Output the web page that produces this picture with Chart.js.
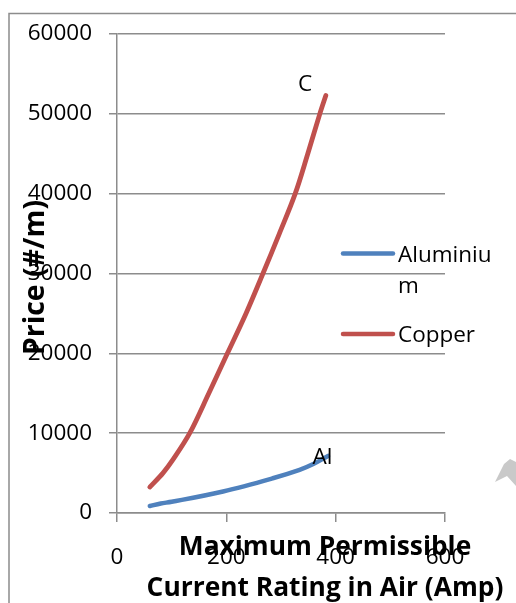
<!DOCTYPE html>
<html>
<head>
<meta charset="utf-8">
<script src="https://cdn.jsdelivr.net/npm/chart.js@4.4.0/dist/chart.umd.min.js"></script>
<style>
    html, body { margin: 0; padding: 0; background: #fff; }
</style>
</head>
<body>
<canvas id="priceChart" width="516" height="603"></canvas>
<script>
// Dados
var cuCurrent = [60, 84, 102, 133, 168, 202, 236, 267, 297, 326, 349, 371, 382];
var cuPrice = [3250, 5000, 6650, 10000, 15000, 20000, 25000, 30000, 35000, 40000, 45000, 50000, 52300];

var alCurrent = [60, 80, 100, 194, 285, 334, 358, 386];
var alPrice = [870, 1200, 1400, 2700, 4350, 5400, 6100, 7150];

var xTicks = [0, 200, 400, 600];
var yTicks = [0, 10000, 20000, 30000, 40000, 50000, 60000];

var seriesNames = ['Aluminium', 'Copper'];
var seriesColors = ['#4F81BD', '#C0504D'];

// rotulos "C" e "Al" junto das curvas (em unidades de dados)
var pointLabels = ['C', 'Al'];
var pointLabelX = [344, 376];
var pointLabelY = [53650, 6980];

var xTitle = ['Maximum Permissible', 'Current Rating in Air (Amp)'];
var yTitle = 'Price (#/m)';

function toPoints(xs, ys) {
    return xs.map(function (x, i) { return { x: x, y: ys[i] }; });
}

function fitFont(ctx, text, weight, width) {
    ctx.font = weight + ' 26px "Open Sans"';
    var w = ctx.measureText(text).width;
    return 26 * width / w;
}

var fundoPlugin = {
    id: 'fundo',
    beforeDraw: function (chart) {
        var ctx = chart.ctx;
        ctx.save();
        ctx.fillStyle = '#fff';
        ctx.fillRect(0, 0, chart.width, chart.height);
        ctx.strokeStyle = '#8c8c8c';
        ctx.lineWidth = 1.5;
        ctx.beginPath();
        ctx.moveTo(9, chart.height);
        ctx.lineTo(9, 13.5);
        ctx.lineTo(chart.width, 13.5);
        ctx.stroke();
        // marca cinza no canto direito
        ctx.fillStyle = '#c9c9c9';
        ctx.beginPath();
        ctx.moveTo(495, 482);
        ctx.lineTo(504, 464);
        ctx.lineTo(510, 459);
        ctx.lineTo(516, 462);
        ctx.lineTo(516, 486);
        ctx.lineTo(507, 476);
        ctx.closePath();
        ctx.fill();
        ctx.restore();
    }
};

var textosPlugin = {
    id: 'textos',
    afterDraw: function (chart) {
        var ctx = chart.ctx;
        var xs = chart.scales.x, ys = chart.scales.y;
        ctx.save();
        ctx.fillStyle = '#000';

        // titulo eixo x
        var fx = fitFont(ctx, xTitle[1], 'bold', 357);
        ctx.font = 'bold ' + fx + 'px "Open Sans"';
        ctx.textAlign = 'center';
        ctx.textBaseline = 'alphabetic';
        ctx.fillText(xTitle[0], 325, 555);
        ctx.fillText(xTitle[1], 325, 596);

        // titulo eixo y
        var fy = fitFont(ctx, yTitle, 'bold', 155);
        ctx.font = 'bold ' + fy + 'px "Open Sans"';
        ctx.translate(43.5, 277.5);
        ctx.rotate(-Math.PI / 2);
        ctx.fillText(yTitle, 0, 0);
        ctx.setTransform(1, 0, 0, 1, 0, 0);

        // legenda
        ctx.font = '22.5px "Open Sans"';
        ctx.textAlign = 'left';
        var legY = [253.5, 334];
        chart.data.datasets.forEach(function (ds, i) {
            ctx.strokeStyle = ds.borderColor;
            ctx.lineWidth = 4.5;
            ctx.lineCap = 'round';
            ctx.beginPath();
            ctx.moveTo(343, legY[i]);
            ctx.lineTo(393, legY[i]);
            ctx.stroke();
            // quebra o texto por caractere
            var linhas = [], atual = '';
            ds.label.split('').forEach(function (c) {
                if (ctx.measureText(atual + c).width > 105 && atual) {
                    linhas.push(atual);
                    atual = c;
                } else {
                    atual += c;
                }
            });
            linhas.push(atual);
            linhas.forEach(function (l, k) {
                ctx.fillText(l, 398, legY[i] + 8.3 + k * 31.5);
            });
        });

        // rotulos C e Al
        ctx.textAlign = 'center';
        ctx.textBaseline = 'middle';
        pointLabels.forEach(function (t, i) {
            ctx.fillText(t, xs.getPixelForValue(pointLabelX[i]), ys.getPixelForValue(pointLabelY[i]));
        });
        ctx.restore();
    }
};

var ctxPreco = document.getElementById('priceChart').getContext('2d');
var precoChart = new Chart(ctxPreco, {
    type: 'scatter',
    data: {
        datasets: [{
            label: seriesNames[0],
            data: toPoints(alCurrent, alPrice),
            borderColor: seriesColors[0],
            backgroundColor: seriesColors[0],
            showLine: true,
            borderWidth: 4.5,
            borderCapStyle: 'round',
            borderJoinStyle: 'round',
            pointRadius: 0,
            tension: 0.35
        }, {
            label: seriesNames[1],
            data: toPoints(cuCurrent, cuPrice),
            borderColor: seriesColors[1],
            backgroundColor: seriesColors[1],
            showLine: true,
            borderWidth: 4.8,
            borderCapStyle: 'round',
            borderJoinStyle: 'round',
            pointRadius: 0,
            tension: 0.35
        }]
    },
    options: {
        responsive: false,
        animation: false,
        events: [],
        layout: { padding: { left: 0, top: 34, right: 71, bottom: 0 } },
        plugins: {
            legend: { display: false },
            tooltip: { enabled: false }
        },
        scales: {
            x: {
                type: 'linear',
                min: 0,
                max: 600,
                afterBuildTicks: function (s) { s.ticks = xTicks.map(function (v) { return { value: v }; }); },
                afterFit: function (s) { s.height = 90; },
                border: { display: true, color: '#8c8c8c', width: 1.5 },
                grid: { drawOnChartArea: false, drawTicks: true, tickLength: 9, color: '#8c8c8c', lineWidth: 1.5 },
                ticks: {
                    color: '#000',
                    padding: 22,
                    maxRotation: 0,
                    font: { family: 'Open Sans', size: 22.5 },
                    callback: function (v) { return String(v); }
                }
            },
            y: {
                type: 'linear',
                min: 0,
                max: 60000,
                afterBuildTicks: function (s) { s.ticks = yTicks.map(function (v) { return { value: v }; }); },
                afterFit: function (s) { s.width = 117; },
                border: { display: true, color: '#8c8c8c', width: 1.5 },
                grid: { drawTicks: true, tickLength: 8, color: '#8c8c8c', lineWidth: 1.5 },
                ticks: {
                    color: '#000',
                    padding: 17,
                    font: { family: 'Open Sans', size: 22.5 },
                    callback: function (v) { return String(v); }
                }
            }
        }
    },
    plugins: [fundoPlugin, textosPlugin]
});
</script>
</body>
</html>
